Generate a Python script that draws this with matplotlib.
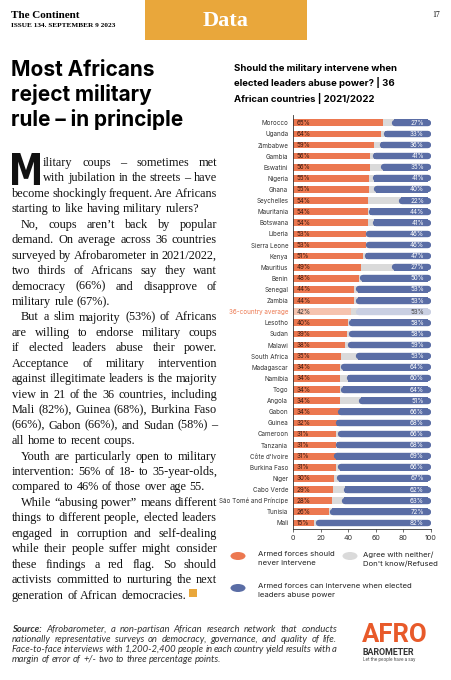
import matplotlib
matplotlib.use("Agg")
import matplotlib.pyplot as plt
from matplotlib.font_manager import FontProperties
from matplotlib.patches import Rectangle, Ellipse, PathPatch
from matplotlib.textpath import TextPath
from matplotlib.transforms import Affine2D

W, H = 452, 680

countries = ["Morocco", "Uganda", "Zimbabwe", "Gambia", "Eswatini", "Nigeria", "Ghana",
             "Seychelles", "Mauritania", "Botswana", "Liberia", "Sierra Leone", "Kenya",
             "Mauritius", "Benin", "Senegal", "Zambia", "36-country average", "Lesotho",
             "Sudan", "Malawi", "South Africa", "Madagascar", "Namibia", "Togo", "Angola",
             "Gabon", "Guinea", "Cameroon", "Tanzania", "Côte d'Ivoire", "Burkina Faso",
             "Niger", "Cabo Verde", "São Tomé and Príncipe", "Tunisia", "Mali"]
never = [65, 64, 59, 56, 56, 55, 55, 54, 54, 54, 53, 53, 51, 49, 48, 44, 44, 42, 40,
         39, 38, 35, 34, 34, 34, 34, 34, 32, 31, 31, 31, 31, 30, 29, 28, 26, 15]
neither = [8, 3, 5, 3, 9, 4, 5, 24, 2, 5, 1, 1, 2, 24, 2, 3, 3, 5, 2,
           3, 3, 12, 2, 6, 2, 15, 0, 0, 3, 1, 0, 3, 3, 9, 9, 2, 3]
can = [27, 33, 36, 41, 35, 41, 40, 22, 44, 41, 46, 46, 47, 27, 50, 53, 53, 53, 58,
       58, 59, 53, 64, 60, 64, 51, 66, 68, 66, 68, 69, 66, 67, 62, 63, 72, 82]
avg_label = "36-country average"
xticks = [0, 20, 40, 60, 80, 100]

ORANGE = "#EC7850"
GREY = "#DADADA"
BLUE = "#5A6DA5"
ORANGE_L = "#F6C3AE"
BLUE_L = "#C9CFE2"
GOLD = "#E9A73B"

SANS = ["Inter", "DejaVu Sans"]
SERIF = ["Liberation Serif", "DejaVu Serif"]

fig = plt.figure(figsize=(W / 100, H / 100), dpi=100)
fig.patch.set_facecolor("white")


def fx(x):
    return x / W


def fy(y):
    return 1 - y / H


# header
fig.patches.append(Rectangle((fx(145), fy(40)), 162 / W, 40 / H, transform=fig.transFigure,
                             facecolor=GOLD, edgecolor="none"))
fig.text(fx(226), fy(21), "Data", color="white", fontsize=16, fontweight="bold",
         family=SERIF, ha="center", va="center")
fig.text(fx(11), fy(18), "The Continent", fontsize=8, fontweight="bold", family=SERIF,
         va="baseline")
fig.text(fx(11), fy(27), "ISSUE 134. SEPTEMBER 9 2023", fontsize=5.2, fontweight="bold",
         family=SERIF, va="baseline")
fig.text(fx(440), fy(17), "17", fontsize=5.5, family=SERIF, ha="right", va="baseline")

# big headline
fig.text(fx(11), fy(60), "Most Africans\nreject military\nrule – in principle", fontsize=15,
         fontweight="bold", family=SANS, va="top", linespacing=1.25)

# chart title
fig.text(fx(234), fy(64), "Should the military intervene when\nelected leaders abuse power? | 36\n"
         "African countries | 2021/2022", fontsize=6.9, fontweight="bold", family=SANS,
         va="top", linespacing=1.5)

renderer = fig.canvas.get_renderer()


def tw(s, p):
    return renderer.get_text_width_height_descent(s, p, ismath=False)[0]


def fit_size(lines, width, family, start, **kw):
    size = start
    while size > 4:
        fp = FontProperties(family=family, size=size, **kw)
        sp = tw("a a", fp) - tw("aa", fp)
        worst = max(sum(tw(w, fp) for w in t.split(" ")) + sp * 0.65 * (len(t.split(" ")) - 1) + ind
                    for ind, t, last in lines)
        if worst <= width:
            return size
        size -= 0.1
    return size


def justify(lines, x0, x1, y0, dy, fp, fp_first=None, **kw):
    for i, (indent, text, last) in enumerate(lines):
        words = text.split(" ")
        props = [fp] * len(words)
        if fp_first is not None and i == 0:
            props[0] = fp_first
        widths = [tw(w, p) for w, p in zip(words, props)]
        sp = tw("a a", fp) - tw("aa", fp)
        start = x0 + indent
        if not last and len(words) > 1:
            sp = (x1 - start - sum(widths)) / (len(words) - 1)
        x = start
        y = y0 + i * dy
        for w, p, wd in zip(words, props, widths):
            fig.text(fx(x), fy(y), w, fontproperties=p, va="baseline", **kw)
            x += wd + sp


body = [
    (31, "ilitary coups – sometimes met", False),
    (31, "with jubilation in the streets – have", False),
    (0, "become shockingly frequent. Are Africans", False),
    (0, "starting to like having military rulers?", True),
    (9, "No, coups aren’t back by popular", False),
    (0, "demand. On average across 36 countries", False),
    (0, "surveyed by Afrobarometer in 2021/2022,", False),
    (0, "two thirds of Africans say they want", False),
    (0, "democracy (66%) and disapprove of", False),
    (0, "military rule (67%).", True),
    (9, "But a slim majority (53%) of Africans", False),
    (0, "are willing to endorse military coups", False),
    (0, "if elected leaders abuse their power.", False),
    (0, "Acceptance of military intervention", False),
    (0, "against illegitimate leaders is the majority", False),
    (0, "view in 21 of the 36 countries, including", False),
    (0, "Mali (82%), Guinea (68%), Burkina Faso", False),
    (0, "(66%), Gabon (66%), and Sudan (58%) –", False),
    (0, "all home to recent coups.", True),
    (9, "Youth are particularly open to military", False),
    (0, "intervention: 56% of 18- to 35-year-olds,", False),
    (0, "compared to 46% of those over age 55.", True),
    (9, "While “abusing power” means different", False),
    (0, "things to different people, elected leaders", False),
    (0, "engaged in corruption and self-dealing", False),
    (0, "while their people suffer might consider", False),
    (0, "these findings a red flag. So should", False),
    (0, "activists committed to nurturing the next", False),
    (0, "generation of African democracies.", True),
]
bsize = fit_size(body, 206, SERIF, 11.5)
body_fp = FontProperties(family=SERIF, size=bsize)
justify(body, 12, 217, 166, 15.45, body_fp, color="#111111")

# drop cap, squeezed into its box
mp = TextPath((0, 0), "M", size=10, prop=FontProperties(family=["DejaVu Sans"], weight="bold"))
ext = mp.get_extents()
tr = (Affine2D().translate(-ext.x0, -ext.y0)
      .scale(28 / ext.width, 32 / ext.height).translate(12, H - 185))
fig.patches.append(PathPatch(tr.transform_path(mp), transform=None, facecolor="#111111",
                             edgecolor="none"))

# end square
last_w = tw("generation of African democracies.", body_fp)
fig.patches.append(Rectangle((fx(12 + last_w + 4), fy(597)), 8 / W, 8 / H,
                             transform=fig.transFigure, facecolor=GOLD, edgecolor="none"))

# source
src = [
    (0, "Source: Afrobarometer, a non-partisan African research network that conducts", False),
    (0, "nationally representative surveys on democracy, governance, and quality of life.", False),
    (0, "Face-to-face interviews with 1,200-2,400 people in each country yield results with a", False),
    (0, "margin of error of +/- two to three percentage points.", True),
]
SRCF = ["Lato", "DejaVu Sans"]
ssize = fit_size(src, 325, SRCF, 7.5, style="italic")
src_fp = FontProperties(family=SRCF, style="italic", size=ssize)
src_bold = FontProperties(family=SRCF, style="italic", weight="bold", size=ssize)
justify(src, 12, 337, 632, 10, src_fp, src_bold, color="#333333")

# logo
LOGO = ["Roboto", "DejaVu Sans"]
fig.text(fx(362), fy(642), "AFRO", fontsize=18.5, fontweight="bold", family=LOGO,
         color="#E85A2A", va="baseline")
fig.text(fx(363), fy(655), "BAROMETER", fontsize=6.4, fontweight="bold",
         family=LOGO, color="#333333", va="baseline")
fig.text(fx(363), fy(661), "Let the people have a say", fontsize=3.3,
         family=LOGO, color="#555555", va="baseline")

# chart
ax = fig.add_axes([fx(293), fy(529), (431 - 293) / W, (529 - 115) / H])
y = list(range(len(countries)))
ia = countries.index(avg_label)
c_or = [ORANGE_L if i == ia else ORANGE for i in y]
c_bl = [BLUE_L if i == ia else BLUE for i in y]
blue_left = [n + g for n, g in zip(never, neither)]
ax.barh(y, never, height=0.6, color=c_or)
ax.barh(y, neither, left=never, height=0.6, color=GREY)
ax.barh(y, [c - 2 for c in can], left=blue_left, height=0.6, color=c_bl)
for i in y:
    ax.plot([blue_left[i] + 1, 97.6], [i, i], color=c_bl[i], lw=4.6, solid_capstyle="round")
    ax.text(2.5, i, f"{never[i]}%", fontsize=4.5, va="center", ha="left", family=SANS,
            color="#333333" if i == ia else "#3a1a10")
    ax.text(95, i, f"{can[i]}%", fontsize=4.5, va="center", ha="right", family=SANS,
            color="#444444" if i == ia else "white")

ax.set_ylim(36.55, -0.7)
ax.set_xlim(0, 100)
ax.set_yticks(y)
ax.set_yticklabels(countries, fontsize=4.5, family=SANS, color="#333333")
ax.get_yticklabels()[ia].set_color(ORANGE)
ax.tick_params(axis="y", length=0, pad=3.5)
ax.set_xticks(xticks)
ax.set_xticklabels([str(t) for t in xticks], fontsize=5.2, family=SANS, color="#333333")
ax.tick_params(axis="x", length=2, width=0.5, pad=2, color="#333333")
for s in ["top", "right"]:
    ax.spines[s].set_visible(False)
for s in ["left", "bottom"]:
    ax.spines[s].set_linewidth(0.6)
    ax.spines[s].set_color("#333333")

# legend
leg = [
    (238, 556, ORANGE, 258, "Armed forces should\nnever intervene"),
    (350, 556, GREY, 363, "Agree with neither/\nDon't know/Refused"),
    (238, 588, BLUE, 258, "Armed forces can intervene when elected\nleaders abuse power"),
]
for ex, ey, col, tx, lab in leg:
    fig.patches.append(Ellipse((fx(ex), fy(ey)), 15 / W, 8 / H, transform=fig.transFigure,
                               facecolor=col, edgecolor="none"))
    fig.text(fx(tx), fy(ey - 5), lab, fontsize=5.6, family=SANS, color="#222222",
             va="top", linespacing=1.6)

fig.savefig("out.png", dpi=100)
